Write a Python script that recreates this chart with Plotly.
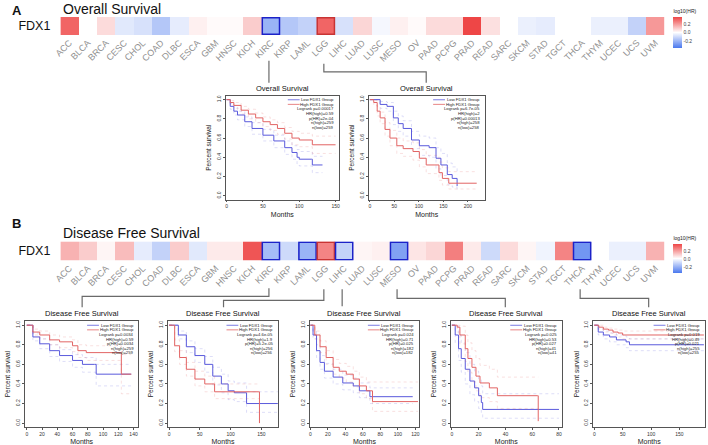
import plotly.graph_objects as go

W, H = 708, 445
FONT = "Arial, 'Liberation Sans', sans-serif"

# ---- heatmap data ---------------------------------------------------------
CANCERS = ["ACC", "BLCA", "BRCA", "CESC", "CHOL", "COAD", "DLBC", "ESCA", "GBM", "HNSC", "KICH",
           "KIRC", "KIRP", "LAML", "LGG", "LIHC", "LUAD", "LUSC", "MESO", "OV", "PAAD", "PCPG",
           "PRAD", "READ", "SARC", "SKCM", "STAD", "TGCT", "THCA", "THYM", "UCEC", "UCS", "UVM"]
OS_LOG_HR = [0.30, 0.0, 0.07, -0.06, -0.08, -0.15, -0.05, 0.03, 0.01, 0.01, 0.10,
             -0.20, -0.15, -0.12, 0.30, -0.08, 0.08, -0.02, 0.03, 0.01, 0.07, 0.07,
             0.36, 0.06, 0.0, -0.04, -0.05, 0.0, 0.0, -0.04, -0.04, -0.12, 0.20]
DFS_LOG_HR = [0.15, 0.10, 0.02, 0.13, -0.05, -0.12, 0.10, -0.06, 0.04, 0.04, 0.33,
              -0.18, -0.10, -0.20, 0.24, -0.12, 0.02, 0.03, -0.25, 0.05, 0.08, 0.25,
              0.04, -0.10, 0.07, 0.02, -0.03, 0.24, -0.28, 0.0, -0.04, -0.04, 0.15]
OS_SIGNIF = {"KIRC": "low", "LGG": "high"}
DFS_SIGNIF = {"KIRC": "low", "LAML": "low", "LGG": "high", "LIHC": "low", "MESO": "low", "THCA": "low"}

# ---- Kaplan-Meier curves --------------------------------------------------
KIRC_OS_HIGH_T = [0, 5, 10, 20, 30, 40, 50, 60, 70, 80, 90, 100, 117, 118, 150]
KIRC_OS_HIGH_S = [1, 0.97, 0.94, 0.89, 0.85, 0.81, 0.77, 0.74, 0.70, 0.65, 0.60, 0.58, 0.58, 0.53, 0.53]
KIRC_OS_HIGH_HI = [1, 0.99, 0.97, 0.93, 0.90, 0.86, 0.82, 0.79, 0.76, 0.71, 0.67, 0.65, 0.65, 0.62, 0.62]
KIRC_OS_HIGH_LO = [1, 0.95, 0.91, 0.85, 0.80, 0.76, 0.72, 0.68, 0.64, 0.59, 0.53, 0.51, 0.51, 0.44, 0.44]
KIRC_OS_LOW_T = [0, 5, 10, 15, 25, 35, 50, 65, 80, 90, 97, 100, 117, 118, 132]
KIRC_OS_LOW_S = [1, 0.93, 0.88, 0.84, 0.77, 0.70, 0.63, 0.57, 0.50, 0.45, 0.40, 0.38, 0.38, 0.32, 0.32]
KIRC_OS_LOW_HI = [1, 0.96, 0.92, 0.88, 0.82, 0.76, 0.69, 0.63, 0.57, 0.52, 0.48, 0.46, 0.46, 0.41, 0.41]
KIRC_OS_LOW_LO = [1, 0.90, 0.84, 0.79, 0.72, 0.64, 0.57, 0.50, 0.43, 0.38, 0.33, 0.31, 0.31, 0.24, 0.24]

LGG_OS_HIGH_T = [0, 8, 15, 21, 31, 41, 55, 68, 88, 101, 115, 131, 141, 148, 161, 218]
LGG_OS_HIGH_S = [1, 0.97, 0.88, 0.81, 0.69, 0.60, 0.52, 0.49, 0.46, 0.39, 0.32, 0.32, 0.24, 0.18, 0.13, 0.13]
LGG_OS_HIGH_HI = [1, 0.99, 0.93, 0.87, 0.76, 0.68, 0.60, 0.57, 0.55, 0.48, 0.42, 0.42, 0.35, 0.29, 0.25, 0.25]
LGG_OS_HIGH_LO = [1, 0.94, 0.83, 0.75, 0.62, 0.52, 0.44, 0.41, 0.37, 0.30, 0.23, 0.23, 0.16, 0.11, 0.07, 0.07]
LGG_OS_LOW_T = [0, 21, 35, 48, 58, 68, 85, 101, 121, 135, 145, 158, 168, 178]
LGG_OS_LOW_S = [1, 0.95, 0.93, 0.81, 0.75, 0.70, 0.58, 0.52, 0.50, 0.39, 0.32, 0.22, 0.18, 0.10]
LGG_OS_LOW_HI = [1, 0.98, 0.97, 0.88, 0.83, 0.78, 0.67, 0.62, 0.60, 0.50, 0.44, 0.34, 0.30, 0.22]
LGG_OS_LOW_LO = [1, 0.91, 0.88, 0.74, 0.67, 0.62, 0.49, 0.42, 0.40, 0.28, 0.21, 0.12, 0.09, 0.04]

KIRC_DFS_HIGH_T = [0, 8, 17, 30, 43, 60, 67, 78, 123, 124, 137]
KIRC_DFS_HIGH_S = [1, 0.93, 0.90, 0.85, 0.83, 0.79, 0.74, 0.72, 0.72, 0.50, 0.50]
KIRC_DFS_HIGH_HI = [1, 0.96, 0.94, 0.90, 0.88, 0.85, 0.80, 0.79, 0.79, 0.70, 0.70]
KIRC_DFS_HIGH_LO = [1, 0.90, 0.86, 0.80, 0.77, 0.73, 0.67, 0.64, 0.64, 0.30, 0.30]
KIRC_DFS_LOW_T = [0, 8, 17, 30, 43, 60, 73, 89, 91, 137]
KIRC_DFS_LOW_S = [1, 0.88, 0.81, 0.74, 0.69, 0.64, 0.60, 0.60, 0.50, 0.50]
KIRC_DFS_LOW_HI = [1, 0.92, 0.86, 0.80, 0.75, 0.70, 0.67, 0.67, 0.60, 0.60]
KIRC_DFS_LOW_LO = [1, 0.84, 0.76, 0.68, 0.63, 0.57, 0.52, 0.52, 0.38, 0.38]

LGG_DFS_HIGH_T = [0, 9, 17, 28, 42, 58, 74, 146, 147]
LGG_DFS_HIGH_S = [1, 0.79, 0.67, 0.55, 0.45, 0.40, 0.32, 0.32, 0.0]
LGG_DFS_HIGH_HI = [1, 0.85, 0.74, 0.62, 0.53, 0.48, 0.40, 0.40, 0.40]
LGG_DFS_HIGH_LO = [1, 0.73, 0.60, 0.48, 0.38, 0.32, 0.25, 0.25, 0.25]
LGG_DFS_LOW_T = [0, 15, 28, 42, 58, 71, 85, 96, 106, 126, 177]
LGG_DFS_LOW_S = [1, 0.90, 0.78, 0.69, 0.60, 0.48, 0.40, 0.33, 0.31, 0.20, 0.20]
LGG_DFS_LOW_HI = [1, 0.94, 0.84, 0.76, 0.68, 0.57, 0.50, 0.43, 0.41, 0.32, 0.32]
LGG_DFS_LOW_LO = [1, 0.86, 0.72, 0.62, 0.52, 0.39, 0.31, 0.24, 0.22, 0.11, 0.11]

LIHC_DFS_HIGH_T = [0, 5, 11, 18, 26, 33, 41, 49, 56, 64, 71, 123]
LIHC_DFS_HIGH_S = [1, 0.90, 0.78, 0.67, 0.57, 0.53, 0.50, 0.45, 0.38, 0.33, 0.22, 0.22]
LIHC_DFS_HIGH_HI = [1, 0.94, 0.84, 0.74, 0.65, 0.61, 0.58, 0.53, 0.47, 0.42, 0.42, 0.42]
LIHC_DFS_HIGH_LO = [1, 0.86, 0.72, 0.60, 0.50, 0.46, 0.42, 0.37, 0.30, 0.25, 0.12, 0.12]
LIHC_DFS_LOW_T = [0, 3, 7, 11, 16, 26, 37, 49, 56, 68, 117]
LIHC_DFS_LOW_S = [1, 0.90, 0.74, 0.62, 0.53, 0.47, 0.41, 0.38, 0.33, 0.27, 0.27]
LIHC_DFS_LOW_HI = [1, 0.94, 0.80, 0.69, 0.61, 0.55, 0.49, 0.46, 0.41, 0.36, 0.36]
LIHC_DFS_LOW_LO = [1, 0.86, 0.67, 0.55, 0.46, 0.40, 0.34, 0.31, 0.26, 0.20, 0.20]

MESO_DFS_HIGH_T = [0, 4, 6, 10, 12, 15, 18, 21, 28, 34, 64, 64.5]
MESO_DFS_HIGH_S = [1, 0.98, 0.90, 0.76, 0.66, 0.57, 0.48, 0.41, 0.36, 0.28, 0.28, 0.02]
MESO_DFS_HIGH_HI = [1, 1, 0.99, 0.90, 0.82, 0.74, 0.66, 0.59, 0.55, 0.47, 0.47, 0.47]
MESO_DFS_HIGH_LO = [1, 0.93, 0.81, 0.63, 0.52, 0.42, 0.33, 0.26, 0.22, 0.15, 0.15, 0.15]
MESO_DFS_LOW_T = [0, 2.5, 5, 7, 10, 13.5, 17, 20, 22, 23, 80]
MESO_DFS_LOW_S = [1, 0.90, 0.76, 0.66, 0.55, 0.43, 0.36, 0.28, 0.21, 0.14, 0.14]
MESO_DFS_LOW_HI = [1, 0.99, 0.90, 0.82, 0.72, 0.60, 0.53, 0.45, 0.38, 0.30, 0.30]
MESO_DFS_LOW_LO = [1, 0.82, 0.64, 0.52, 0.40, 0.29, 0.22, 0.15, 0.10, 0.05, 0.05]

THCA_DFS_HIGH_T = [0, 8, 16, 25, 33, 42, 50, 193]
THCA_DFS_HIGH_S = [1, 0.98, 0.96, 0.95, 0.93, 0.92, 0.90, 0.90]
THCA_DFS_HIGH_HI = [1, 1, 0.98, 0.97, 0.96, 0.95, 0.94, 0.94]
THCA_DFS_HIGH_LO = [1, 0.96, 0.93, 0.92, 0.90, 0.88, 0.86, 0.86]
THCA_DFS_LOW_T = [0, 7, 16, 27, 39, 56, 62, 193]
THCA_DFS_LOW_S = [1, 0.93, 0.90, 0.88, 0.85, 0.83, 0.80, 0.80]
THCA_DFS_LOW_HI = [1, 0.96, 0.94, 0.92, 0.90, 0.88, 0.86, 0.86]
THCA_DFS_LOW_LO = [1, 0.90, 0.86, 0.83, 0.80, 0.77, 0.74, 0.74]

KIRC_OS_STATS = ["Logrank p=0.00017", "HR(high)=0.59", "p(HR)=2e-04", "n(high)=259", "n(low)=259"]
LGG_OS_STATS = ["Logrank p=6.7e-05", "HR(high)=2", "p(HR)=0.00013", "n(high)=258", "n(low)=258"]
KIRC_DFS_STATS = ["Logrank p=0.0034", "HR(high)=0.59", "p(HR)=0.0034", "n(high)=259", "n(low)=259"]
LGG_DFS_STATS = ["Logrank p=4.6e-05", "HR(high)=1.9", "p(HR)=5.2e-05", "n(high)=256", "n(low)=256"]
LIHC_DFS_STATS = ["Logrank p=0.024", "HR(high)=0.71", "p(HR)=0.025", "n(high)=182", "n(low)=182"]
MESO_DFS_STATS = ["Logrank p=0.025", "HR(high)=0.53", "p(HR)=0.027", "n(high)=41", "n(low)=41"]
THCA_DFS_STATS = ["Logrank p=0.019", "HR(high)=0.49", "p(HR)=0.021", "n(high)=255", "n(low)=255"]

# ---- style ------------------------------------------------------------------
BLUE, RED = "#5a5adc", "#e26464"
BLUE_CI, RED_CI = "rgba(90,90,220,0.25)", "rgba(226,100,100,0.25)"
BOX_LOW, BOX_HIGH = "#1c22c8", "#c83434"
HM_SCALE = [(0.0, "#4a78ee"), (0.5, "#ffffff"), (1.0, "#ee4646")]
HM_X0, HM_X1 = 54, 665
HM_CELL = (HM_X1 - HM_X0) / len(CANCERS)


def px(x):
    return x / W


def py(y):
    return 1 - y / H


fig = go.Figure()
layout = {}
shapes = []
annotations = []


def add_heatmap(n, values, signif, top, bottom, cb_top, cb_bottom):
    sfx = "" if n == 1 else str(n)
    fig.add_trace(go.Heatmap(
        z=[values], x=CANCERS, y=["FDX1"], xaxis="x" + sfx, yaxis="y" + sfx,
        colorscale=HM_SCALE, zmin=-0.36, zmax=0.36, hoverinfo="skip",
        colorbar=dict(x=px(674), xanchor="left", y=py(cb_bottom), yanchor="bottom",
                      len=(cb_bottom - cb_top) / H, thickness=9, outlinewidth=0,
                      tickvals=[-0.2, 0, 0.2], ticktext=["-0.2", "0.0", "0.2"], ticks="",
                      tickfont=dict(size=5, color="#444"), xpad=0, ypad=0,
                      title=dict(text="log10(HR)", side="top", font=dict(size=5, color="#222"))),
    ))
    layout["xaxis" + sfx] = dict(domain=[px(HM_X0), px(HM_X1)], anchor="y" + sfx, tickangle=-45,
                                 tickfont=dict(size=9, color="#8f8f8f"), showgrid=False, zeroline=False,
                                 showline=False, ticks="", fixedrange=True)
    layout["yaxis" + sfx] = dict(domain=[py(bottom), py(top)], anchor="x" + sfx,
                                 tickfont=dict(size=12.5, color="#111"), showgrid=False, zeroline=False,
                                 ticks="", ticklabelstandoff=9)
    for name, kind in signif.items():
        i = CANCERS.index(name)
        shapes.append(dict(type="rect", xref="x" + sfx, yref="y" + sfx, x0=i - 0.47, x1=i + 0.47,
                           y0=-0.46, y1=0.46, line=dict(color=BOX_LOW if kind == "low" else BOX_HIGH, width=1.5)))


def add_km(n, box, xrange, dtick, title, low, high, stats):
    sfx = str(n)
    left, top, right, bottom = box
    for (t, s, lo, hi), col, ci in ((low, BLUE, BLUE_CI), (high, RED, RED_CI)):
        for band in (lo, hi):
            fig.add_trace(go.Scatter(x=t, y=band, mode="lines", line=dict(color=ci, width=0.8, shape="hv", dash="dot"),
                                     xaxis="x" + sfx, yaxis="y" + sfx, showlegend=False, hoverinfo="skip"))
        fig.add_trace(go.Scatter(x=t, y=s, mode="lines", line=dict(color=col, width=1, shape="hv"),
                                 xaxis="x" + sfx, yaxis="y" + sfx, showlegend=False))
    layout["xaxis" + sfx] = dict(domain=[px(left), px(right)], anchor="y" + sfx, range=xrange, dtick=dtick,
                                 showline=True, mirror=True, linecolor="#555", linewidth=0.8, ticks="outside",
                                 ticklen=2, tickwidth=0.6, tickcolor="#555", tickfont=dict(size=5, color="#333"),
                                 showgrid=False, zeroline=False,
                                 title=dict(text="Months", font=dict(size=7, color="#222"), standoff=3))
    layout["yaxis" + sfx] = dict(domain=[py(bottom), py(top)], anchor="x" + sfx, range=[-0.04, 1.04],
                                 tickvals=[0, 0.2, 0.4, 0.6, 0.8, 1.0],
                                 ticktext=["0.0", "0.2", "0.4", "0.6", "0.8", "1.0"], tickangle=-90,
                                 showline=True, mirror=True, linecolor="#555", linewidth=0.8, ticks="outside",
                                 ticklen=2, tickwidth=0.6, tickcolor="#555", tickfont=dict(size=5, color="#333"),
                                 showgrid=False, zeroline=False,
                                 title=dict(text="Percent survival", font=dict(size=6.5, color="#222"), standoff=3))
    annotations.append(dict(text=title, x=px((left + right) / 2), y=py(top - 1), xref="paper", yref="paper",
                            xanchor="center", yanchor="bottom", showarrow=False,
                            font=dict(size=7.5, color="#111")))
    lines = ["Low FDX1 Group", "High FDX1 Group"] + stats
    for k, txt in enumerate(lines):
        annotations.append(dict(text=txt, x=px(right - 3), y=py(top + 4 + 4.6 * k), xref="paper", yref="paper",
                                xanchor="right", yanchor="middle", showarrow=False,
                                font=dict(size=4.2, color="#222")))
    for k, col in ((0, BLUE), (1, RED)):
        yy = py(top + 4 + 4.6 * k)
        shapes.append(dict(type="line", xref="paper", yref="paper", x0=px(right - 52), x1=px(right - 40),
                           y0=yy, y1=yy, line=dict(color=col, width=0.8)))


add_heatmap(1, OS_LOG_HR, OS_SIGNIF, 16, 34, 5, 47)
add_heatmap(2, DFS_LOG_HR, DFS_SIGNIF, 241, 260, 233, 273)

add_km(3, (221, 95, 336, 199), [-1.5, 155], 50, "Overall Survival",
       (KIRC_OS_LOW_T, KIRC_OS_LOW_S, KIRC_OS_LOW_LO, KIRC_OS_LOW_HI),
       (KIRC_OS_HIGH_T, KIRC_OS_HIGH_S, KIRC_OS_HIGH_LO, KIRC_OS_HIGH_HI), KIRC_OS_STATS)
add_km(4, (366, 95, 483, 199), [-2, 234], 50, "Overall Survival",
       (LGG_OS_LOW_T, LGG_OS_LOW_S, LGG_OS_LOW_LO, LGG_OS_LOW_HI),
       (LGG_OS_HIGH_T, LGG_OS_HIGH_S, LGG_OS_HIGH_LO, LGG_OS_HIGH_HI), LGG_OS_STATS)
add_km(5, (18, 321, 133, 427), [-2.6, 146.5], 20, "Disease Free Survival",
       (KIRC_DFS_LOW_T, KIRC_DFS_LOW_S, KIRC_DFS_LOW_LO, KIRC_DFS_LOW_HI),
       (KIRC_DFS_HIGH_T, KIRC_DFS_HIGH_S, KIRC_DFS_HIGH_LO, KIRC_DFS_HIGH_HI), KIRC_DFS_STATS)
add_km(6, (163, 321, 274, 427), [-1.6, 177], 50, "Disease Free Survival",
       (LGG_DFS_LOW_T, LGG_DFS_LOW_S, LGG_DFS_LOW_LO, LGG_DFS_LOW_HI),
       (LGG_DFS_HIGH_T, LGG_DFS_HIGH_S, LGG_DFS_HIGH_LO, LGG_DFS_HIGH_HI), LGG_DFS_STATS)
add_km(7, (306, 321, 417, 427), [-1, 124.5], 20, "Disease Free Survival",
       (LIHC_DFS_LOW_T, LIHC_DFS_LOW_S, LIHC_DFS_LOW_LO, LIHC_DFS_LOW_HI),
       (LIHC_DFS_HIGH_T, LIHC_DFS_HIGH_S, LIHC_DFS_HIGH_LO, LIHC_DFS_HIGH_HI), LIHC_DFS_STATS)
add_km(8, (449, 321, 561, 427), [-0.7, 82], 20, "Disease Free Survival",
       (MESO_DFS_LOW_T, MESO_DFS_LOW_S, MESO_DFS_LOW_LO, MESO_DFS_LOW_HI),
       (MESO_DFS_HIGH_T, MESO_DFS_HIGH_S, MESO_DFS_HIGH_LO, MESO_DFS_HIGH_HI), MESO_DFS_STATS)
add_km(9, (593, 321, 706, 427), [-1.7, 195], 50, "Disease Free Survival",
       (THCA_DFS_LOW_T, THCA_DFS_LOW_S, THCA_DFS_LOW_LO, THCA_DFS_LOW_HI),
       (THCA_DFS_HIGH_T, THCA_DFS_HIGH_S, THCA_DFS_HIGH_LO, THCA_DFS_HIGH_HI), THCA_DFS_STATS)


# connectors from heatmap columns down to their survival plots
def cell_x(name):
    return HM_X0 + HM_CELL * (CANCERS.index(name) + 0.5) - 2


def connector(points):
    path = "M " + " L ".join(f"{px(x)},{py(y)}" for x, y in points)
    shapes.append(dict(type="path", xref="paper", yref="paper", path=path, line=dict(color="#6a6a6a", width=1.2)))


connector([(cell_x("KIRC"), 60), (cell_x("KIRC"), 82)])
connector([(cell_x("LGG"), 63), (cell_x("LGG"), 71), (424, 71), (424, 82)])
connector([(cell_x("KIRC"), 288), (cell_x("KIRC"), 296), (76, 296), (76, 307)])
connector([(cell_x("LGG"), 289), (cell_x("LGG"), 300), (219, 300), (219, 307)])
connector([(cell_x("LIHC"), 289), (cell_x("LIHC"), 306)])
connector([(cell_x("MESO"), 289), (cell_x("MESO"), 298), (504, 298), (504, 307)])
connector([(cell_x("THCA"), 289), (cell_x("THCA"), 298), (649, 298), (649, 307)])

for txt, x, y, size, bold in (("A", 3, 10, 13, True), ("Overall Survival", 55, 8, 14, False),
                              ("B", 3, 223, 13, True), ("Disease Free Survival", 55, 233, 14, False)):
    annotations.append(dict(text=f"<b>{txt}</b>" if bold else txt, x=px(x), y=py(y), xref="paper", yref="paper",
                            xanchor="left", yanchor="middle", showarrow=False,
                            font=dict(size=size, color="#111")))

fig.update_layout(
    width=W, height=H, margin=dict(l=0, r=0, t=0, b=0),
    paper_bgcolor="white", plot_bgcolor="white",
    font=dict(family=FONT, color="#222"),
    shapes=shapes, annotations=annotations, showlegend=False,
    **layout,
)

# the page's default body margin would push the figure out of the window
fig.write_html("out.html", config={"displayModeBar": False},
               post_script="document.body.style.margin='0';document.body.style.overflow='hidden';")
